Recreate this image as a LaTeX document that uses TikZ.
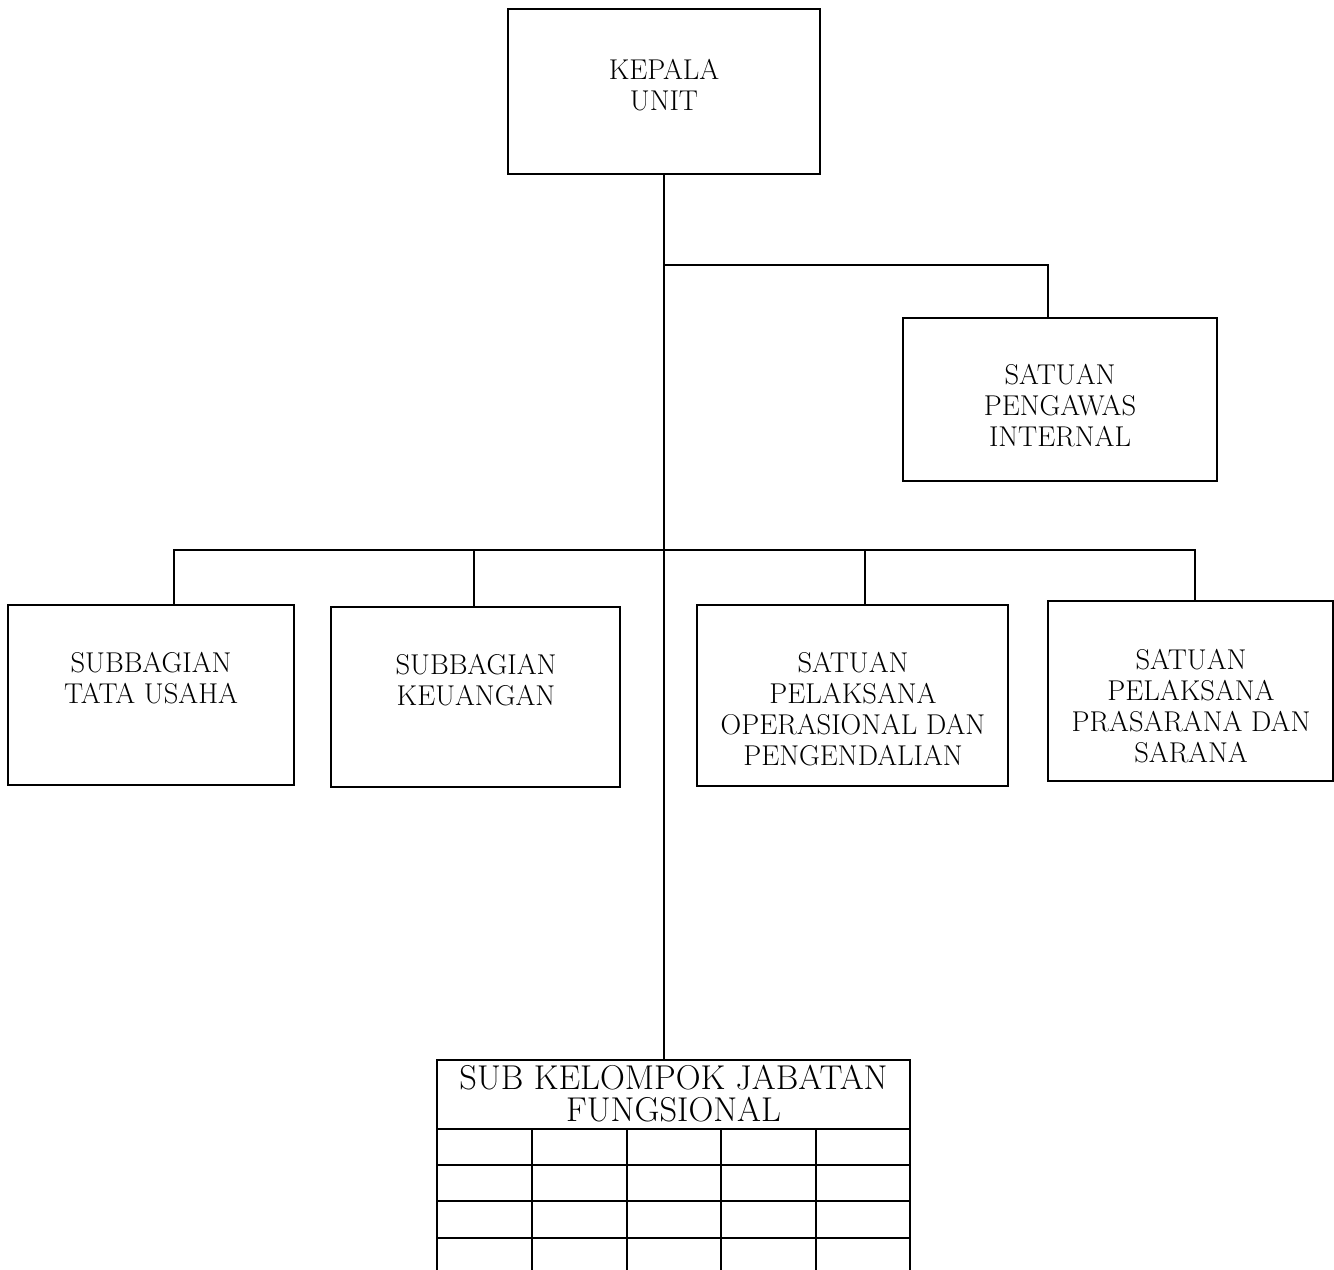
\documentclass[tikz,border=0pt]{standalone}
\usepackage{fontspec}
\usepackage{tikz}
\usetikzlibrary{calc}

\tikzset{
    box/.style={draw,line width=1.1pt,inner sep=0pt},
    txt/.style={align=center,font=\fontsize{16.3}{17.6}\selectfont},
    head/.style={align=center,font=\fontsize{19.6}{18.2}\selectfont},
}

\begin{document}
\begin{tikzpicture}[x=0.02cm,y=-0.02cm,line width=1.1pt]
    \useasboundingbox (0,0) rectangle (1334,1269);
    % boxes
    \node[box,minimum width=6.24cm,minimum height=3.3cm] (kepala) at (664,91.5) {};
    \node[txt] (kepalatxt) at (664,85) {KEPALA\\UNIT};
    \node[box,minimum width=6.28cm,minimum height=3.26cm] (spi) at (1060,399.5) {};
    \node[txt] (spitxt) at (1060,406) {SATUAN\\PENGAWAS\\INTERNAL};
    \node[box,minimum width=5.72cm,minimum height=3.6cm] (stu) at (151,695) {};
    \node[txt] (stutxt) at (151,678) {SUBBAGIAN\\TATA USAHA};
    \node[box,minimum width=5.78cm,minimum height=3.6cm] (sku) at (475.5,697) {};
    \node[txt] (skutxt) at (476,680) {SUBBAGIAN\\KEUANGAN};
    \node[box,minimum width=6.22cm,minimum height=3.62cm] (sop) at (852.5,695.5) {};
    \node[txt] (soptxt) at (853,709) {SATUAN\\PELAKSANA\\OPERASIONAL DAN\\PENGENDALIAN};
    \node[box,minimum width=5.7cm,minimum height=3.6cm] (spr) at (1190.5,691) {};
    \node[txt] (sprtxt) at (1191,706) {SATUAN\\PELAKSANA\\PRASARANA DAN\\SARANA};
    \node[box,minimum width=9.46cm,minimum height=1.38cm] (sub) at (673.5,1094.5) {};
    \node[head] (subtxt) at (673.5,1094) {SUB KELOMPOK JABATAN\\FUNGSIONAL};
    % grid under the header
    \foreach \y in {1165,1201,1238}
        \draw (sub.west |- 0,\y) -- (sub.east |- 0,\y);
    \foreach \x in {437,532,627,721,816,910}
        \draw (\x,1129) -- (\x,1275);
    % lines
    \coordinate (j1) at (664,265);
    \coordinate (j2) at (664,550);
    \draw (kepala.south) -- (kepala.south |- sub.north);
    \draw (j1) -| ([xshift=-0.24cm]spi.north);
    \draw ([xshift=0.46cm]stu.north) |- (j2) -| ([xshift=0.09cm]spr.north);
    \draw ([xshift=-0.03cm]sku.north) -- ([xshift=-0.03cm]sku.north |- j2);
    \draw ([xshift=0.25cm]sop.north) -- ([xshift=0.25cm]sop.north |- j2);
\end{tikzpicture}
\end{document}
